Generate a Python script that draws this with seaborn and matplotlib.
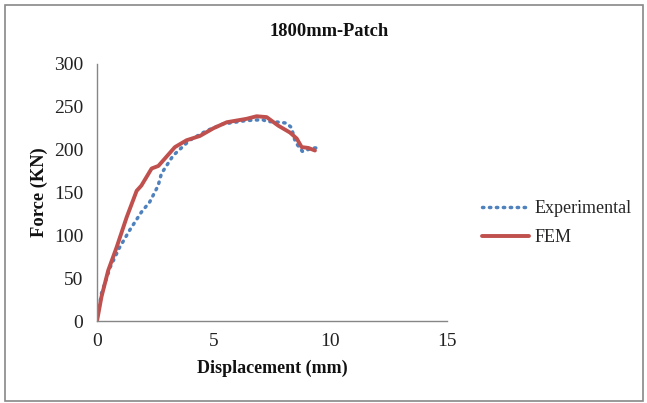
import matplotlib
matplotlib.use("Agg")
import matplotlib.pyplot as plt
import seaborn as sns
import pandas as pd
from matplotlib.patches import Rectangle

# Data
exp_disp = [0.0, 0.19, 0.57, 0.95, 1.4, 1.9, 2.26, 2.62, 2.76, 3.26, 3.97, 4.69, 5.4,
            6.4, 7.1, 7.27, 7.83, 8.11, 8.33, 8.48, 8.58, 8.8, 9.26, 9.43]
exp_force = [0, 32, 63, 85, 106, 127, 139, 158, 172, 193, 211, 222, 230,
             234, 235, 233, 232, 231, 226, 211, 206, 198, 202, 202]
fem_disp = [0.0, 0.19, 0.48, 0.84, 1.27, 1.7, 1.9, 2.34, 2.63, 3.34, 3.84, 4.41, 4.99,
            5.56, 6.41, 6.84, 7.27, 7.77, 8.27, 8.56, 8.77, 9.06, 9.34]
fem_force = [0, 28, 59, 86, 121, 152, 158, 178, 181, 203, 211, 216, 225,
             232, 236, 239, 238, 228, 220, 213, 203, 202, 199]

series_names = ["Experimental", "FEM"]
title = "1800mm-Patch"
xlabel = "Displacement (mm)"
ylabel = "Force (KN)"

df = pd.concat([
    pd.DataFrame({"disp": exp_disp, "force": exp_force, "series": series_names[0]}),
    pd.DataFrame({"disp": fem_disp, "force": fem_force, "series": series_names[1]}),
])

sns.set_theme(style="white")
plt.rcParams["font.family"] = ["Liberation Serif", "DejaVu Serif"]

fig = plt.figure(figsize=(6.47, 4.03), dpi=100)
ax = fig.add_axes([97/647, 1-321/403, 350/647, 257/403])

colors = {"Experimental": "#4F81BD", "FEM": "#C0504D"}
sns.lineplot(data=df[df.series == "Experimental"], x="disp", y="force", ax=ax,
             color=colors["Experimental"], linewidth=2.5, linestyle=(0, (0.4, 1.6)),
             dash_capstyle="round", sort=False, estimator=None, label="Experimental",
             legend=False)
sns.lineplot(data=df[df.series == "FEM"], x="disp", y="force", ax=ax,
             color=colors["FEM"], linewidth=2.8, sort=False, estimator=None,
             label="FEM", legend=False, solid_capstyle="round")

ax.set_xlim(0, 15)
ax.set_ylim(0, 300)
ax.set_xticks([0, 5, 10, 15])
ax.set_yticks(range(0, 301, 50))
for s in ["top", "right"]:
    ax.spines[s].set_visible(False)
for s in ["left", "bottom"]:
    ax.spines[s].set_color("#868686")
    ax.spines[s].set_linewidth(1.0)
ax.tick_params(axis="both", which="major", direction="out", length=5, width=1,
               color="#868686", labelsize=14, labelcolor="#222222")
ax.tick_params(axis="y", pad=5)
ax.tick_params(axis="x", pad=4)
ax.set_xlabel("")
ax.set_ylabel("")

fig.text(329/647, 1-31/403, title, ha="center", va="center", fontsize=13.3,
         fontweight="bold", color="#111111")
fig.text(272/647, 1-368/403, xlabel, ha="center", va="center", fontsize=13,
         fontweight="bold", color="#111111")
fig.text(39/647, 1-192/403, ylabel, ha="center", va="center", fontsize=13.3,
         fontweight="bold", color="#111111", rotation=90)

handles, labels = ax.get_legend_handles_labels()
leg = fig.legend(handles, labels, loc="center left",
                 bbox_to_anchor=(482/647, 1-223/403), frameon=False,
                 fontsize=13, handlelength=2.6, handletextpad=0.3,
                 labelspacing=0.65, borderpad=0, borderaxespad=0)

fig.patches.append(Rectangle((5/647, 2/403), 638/647, 396/403, transform=fig.transFigure,
                             fill=False, edgecolor="#888888", linewidth=1.2))

fig.savefig("out.png", dpi=100, facecolor="white")
